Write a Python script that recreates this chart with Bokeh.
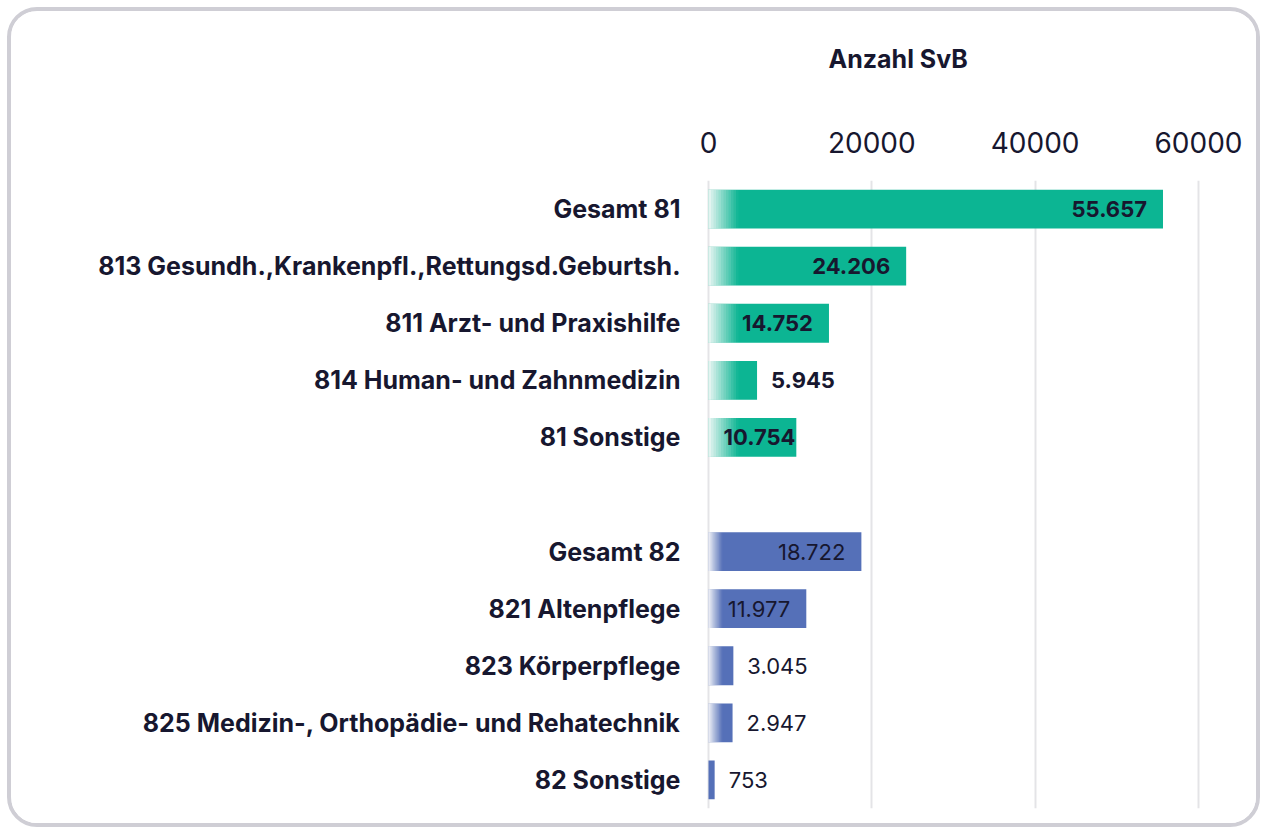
from bokeh.plotting import figure
from bokeh.models import FactorRange, Range1d, Title, ColumnDataSource, FixedTicker
from bokeh.embed import file_html
from bokeh.resources import INLINE
from bokeh.core.properties import value

# ---- data ----
categories_81 = ["Gesamt 81", "813 Gesundh.,Krankenpfl.,Rettungsd.Geburtsh.",
                 "811 Arzt- und Praxishilfe", "814 Human- und Zahnmedizin", "81 Sonstige"]
values_81 = [55657, 24206, 14752, 5945, 10754]
categories_82 = ["Gesamt 82", "821 Altenpflege", "823 Körperpflege",
                 "825 Medizin-, Orthopädie- und Rehatechnik", "82 Sonstige"]
values_82 = [18722, 11977, 3045, 2947, 753]
x_ticks = [0, 20000, 40000, 60000]
axis_title = "Anzahl SvB"

# ---- styling ----
FONT = "Inter"
TEXT = "#17172f"
GREEN = "#0cb593"
BLUE = "#5570b8"
X_START, X_END = -245, 60250
FRAME_W = 494
FRAME_H = 628
px_per_unit = FRAME_W / (X_END - X_START)

factors = categories_81 + [" "] + categories_82

p = figure(width=1245, height=812, output_backend="svg", toolbar_location=None,
           y_range=FactorRange(factors=list(reversed(factors))),
           x_range=Range1d(X_START, X_END), x_axis_location="above",
           min_border_left=695, min_border_right=56, min_border_top=169, min_border_bottom=15,
           frame_width=FRAME_W, frame_height=FRAME_H,
           styles={"border": "4px solid #cfced5", "border-radius": "30px",
                   "overflow": "hidden", "margin": "7px 0 0 7px"})
p.outline_line_color = None
p.background_fill_color = "white"
p.border_fill_color = "white"

# grid
p.ygrid.grid_line_color = None
p.xgrid.ticker = FixedTicker(ticks=x_ticks)
p.xgrid.grid_line_color = "#e4e4e7"
p.xgrid.grid_line_width = 2

# x axis (blank axis label used as vertical spacer below the title)
p.xaxis.ticker = FixedTicker(ticks=x_ticks)
p.xaxis.axis_line_color = None
p.xaxis.major_tick_line_color = None
p.xaxis.minor_tick_line_color = None
p.xaxis.major_label_text_font = FONT
p.xaxis.major_label_text_font_size = "28px"
p.xaxis.major_label_text_color = TEXT
p.xaxis.major_label_standoff = 22
p.xaxis.axis_label = " "
p.xaxis.axis_label_text_font_size = "20px"
p.xaxis.axis_label_standoff = 4

# y axis
p.yaxis.axis_line_color = None
p.yaxis.major_tick_line_color = None
p.yaxis.minor_tick_line_color = None
p.yaxis.major_label_text_font = FONT
p.yaxis.major_label_text_font_size = "25px"
p.yaxis.major_label_text_font_style = "bold"
p.yaxis.major_label_text_color = TEXT
p.yaxis.major_label_standoff = 20

p.add_layout(Title(text=axis_title, align="left", offset=122, text_font=FONT,
                   text_font_size="25px", text_font_style="bold", text_color=TEXT,
                   standoff=51), "above")

BAR_H = 0.68


def fmt(v):
    return f"{v:,}".replace(",", ".")


def draw_group(cats, vals, color, fade_px, bold, char_w):
    p.hbar(y=cats, left=0, right=vals, height=BAR_H, fill_color=color, line_color=None)
    # left fade: stacked translucent white layers
    n = 12
    w0 = 0.93
    targets = [w0 * (1 - (j + 0.5) / n) for j in range(n)]
    T = [1 - t for t in targets] + [1.0]
    alphas = [1 - T[j] / T[j + 1] for j in range(n)]
    for j in range(n):
        rc, rr = [], []
        for c, v in zip(cats, vals):
            if v * px_per_unit > fade_px:
                rc.append(c)
                rr.append(fade_px * (j + 1) / n / px_per_unit)
        if rc:
            p.hbar(y=rc, left=0, right=rr, height=BAR_H, fill_color="white",
                   fill_alpha=alphas[j], line_color=None)
    # value labels
    groups = {"in_right": ([], [], []), "justify": ([], [], []), "outside": ([], [], [])}
    for c, v in zip(cats, vals):
        s = fmt(v)
        tw = len(s) * char_w
        bp = v * px_per_unit
        if bp - 16 - tw >= 0:
            key, x = "in_right", v
        elif bp >= tw:
            key, x = "justify", 0
        else:
            key, x = "outside", v
        groups[key][0].append(c)
        groups[key][1].append(x)
        groups[key][2].append(s)
    style = "bold" if bold else "normal"
    spec = {"in_right": ("right", -16), "justify": ("left", 15), "outside": ("left", 14)}
    for key, (ys, xs, ts) in groups.items():
        if not ys:
            continue
        align, off = spec[key]
        src = ColumnDataSource(dict(y=ys, x=xs, t=ts))
        p.text(x="x", y="y", text="t", source=src, x_offset=off, text_align=align,
               text_baseline="middle", text_font=value(FONT), text_font_size="22px",
               text_font_style=style, text_color=TEXT)


draw_group(categories_81, values_81, GREEN, 30, True, 12.2)
draw_group(categories_82, values_82, BLUE, 14, False, 10.2)

open("out.html", "w").write(file_html(p, INLINE))
